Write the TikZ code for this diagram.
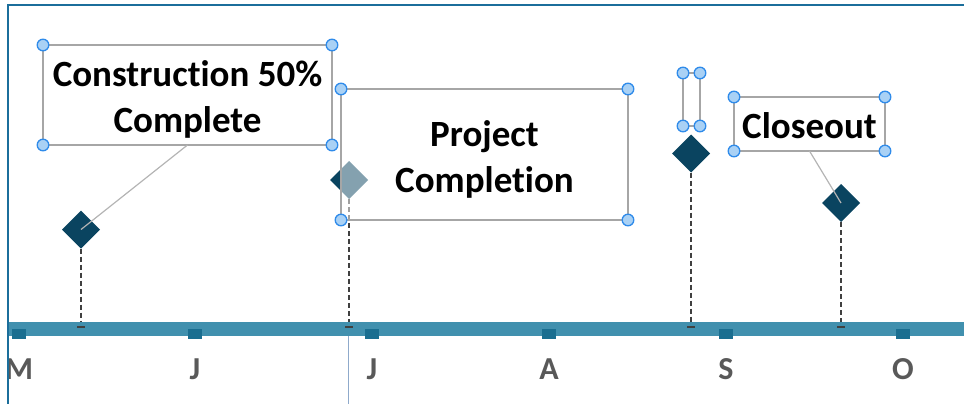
\documentclass[tikz,border=0pt]{standalone}
\usepackage{fontspec}
\setmainfont[Ligatures=NoCommon]{Carlito}
\usetikzlibrary{shapes.geometric}
\definecolor{frameblue}{HTML}{1B6E9B}
\definecolor{barblue}{HTML}{4190AE}
\definecolor{tickblue}{HTML}{1A6E90}
\definecolor{diamondnavy}{HTML}{0A4460}
\definecolor{boxgray}{HTML}{A6A6A6}
\definecolor{handlefill}{HTML}{A9D1F5}
\definecolor{handledraw}{HTML}{2F8BEA}
\definecolor{linkgray}{HTML}{B4B4B4}
\definecolor{dashgray}{HTML}{404040}
\definecolor{monthgray}{HTML}{595959}
\definecolor{todayblue}{HTML}{8FAACB}
\begin{document}
\begin{tikzpicture}[x=1pt,y=-1pt,
  callout/.style={draw=boxgray, line width=1.5pt, fill=white, fill opacity=0.5,
    inner sep=0pt, outer sep=0pt},
  boxtext/.style={inner sep=0pt, align=center, font=\bfseries\fontsize{37}{46.5}\selectfont},
  milestone/.style={diamond, fill=diamondnavy, minimum width=38pt, minimum height=38pt, inner sep=0pt, outer sep=0pt},
  handle/.style={draw=handledraw, fill=handlefill, line width=1.3pt},
  link/.style={draw=linkgray, line width=1.2pt},
  drop/.style={draw=dashgray, dash pattern=on 5pt off 3pt, line width=1.3pt},
  month/.style={font=\bfseries\fontsize{32}{38}\selectfont, text=monthgray, anchor=base, inner sep=0pt},
  tickmark/.style={fill=tickblue}]
\useasboundingbox (0,0) rectangle (964,404);
% frame
\draw[frameblue, line width=2pt] (8,404) -- (8,5) -- (964,5);
% today line
\draw[todayblue, line width=1pt] (348.5,336) -- (348.5,404);
% axis anchor coordinates
\coordinate (a1) at (81,327);
\coordinate (a2) at (349,327);
\coordinate (a3) at (691,327);
\coordinate (a4) at (841,327);
% milestones
\node[milestone] (d1) at (81,229.5) {};
\node[milestone] (d2) at (349,180) {};
\node[milestone] (d3) at (691,153.5) {};
\node[milestone] (d4) at (841,203) {};
% drop lines
\draw[drop] (d1.south) -- (a1);
\draw[drop] (d2.south) -- (a2);
\draw[drop] (d3.south) -- (a3);
\draw[drop] (d4.south) -- (a4);
% axis bar and months
\begin{scope}
\clip (9,6) rectangle (964,404);
\fill[barblue] (9,322) rectangle (964,336);
\foreach \x in {19,195,372,549,726,903} \fill[tickmark] (\x-7,329) rectangle (\x+7,339);
\node[month] (m1) at (19,379) {M};
\node[month] (m2) at (195,379) {J};
\node[month] (m3) at (372,379) {J};
\node[month] (m4) at (549,379) {A};
\node[month] (m5) at (726,379) {S};
\node[month] (m6) at (903,379) {O};
\end{scope}
% small end ticks
\foreach \c in {a1,a2,a3,a4} \draw[dashgray, line width=1.2pt] ([xshift=-4pt]\c) -- ([xshift=4pt]\c);
% callout boxes
\node[callout, minimum width=289pt, minimum height=100pt] (b1) at (187.5,95) {};
\node[callout, minimum width=287pt, minimum height=131pt] (b2) at (484.5,154.5) {};
\node[callout, minimum width=17pt, minimum height=53pt] (b3) at (691.5,99.5) {};
\node[callout, minimum width=151pt, minimum height=54pt] (b4) at (809.5,124) {};
\node[boxtext] (t1) at ([yshift=-4.5pt]b1.center) {Construction 50\%\\Complete};
\node[boxtext] (t2) at ([yshift=-5pt]b2.center) {Project\\Completion};
\node[boxtext] (t4) at ([yshift=-2pt]b4.center) {Closeout};
% leader lines
\draw[link] (b1.south) -- (d1.center);
\draw[link] (b4.south) -- (d4.center);
% selection handles
\foreach \b in {b1,b2,b3,b4}
  \foreach \a in {north west,north east,south west,south east}
    \draw[handle] (\b.\a) circle (5.8pt);
\end{tikzpicture}
\end{document}
